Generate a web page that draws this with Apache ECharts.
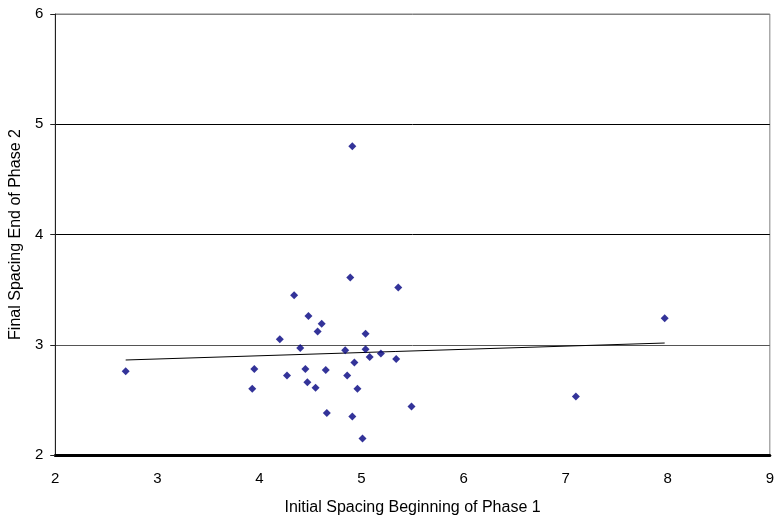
<!DOCTYPE html>
<html>
<head>
<meta charset="utf-8">
<script src="https://cdn.jsdelivr.net/npm/echarts@6/dist/echarts.min.js"></script>
<style>
  html, body { margin: 0; padding: 0; background: #fff; }
  #chart { width: 777px; height: 521px; }
</style>
</head>
<body>
<div id="chart"></div>
<script>
// Initial spacing (beginning of phase 1) vs final spacing (end of phase 2)
const initialSpacing = [
  4.89, 5.36, 4.34, 4.48, 4.61, 4.57, 5.04, 4.20, 4.40, 4.84,
  5.04, 5.08, 5.19, 5.34, 4.93, 3.95, 4.45, 4.65, 4.27, 4.86,
  4.47, 4.55, 3.93, 4.96, 5.49, 4.66, 4.91, 5.01, 2.69, 4.91,
  7.97, 7.10
];
const finalSpacing = [
  3.61, 3.52, 3.45, 3.26, 3.19, 3.12, 3.10, 3.05, 2.97, 2.95,
  2.96, 2.89, 2.92, 2.87, 2.84, 2.78, 2.78, 2.77, 2.72, 2.72,
  2.66, 2.61, 2.60, 2.60, 2.44, 2.38, 2.35, 2.15, 2.76, 4.80,
  3.24, 2.53
];
const xTicks = [2, 3, 4, 5, 6, 7, 8, 9];
const yTicks = [2, 3, 4, 5, 6];

const points = initialSpacing.map((x, i) => [x, finalSpacing[i]]);

// Least-squares linear trend over the observed range
const n = points.length;
const mx = initialSpacing.reduce((a, b) => a + b, 0) / n;
const my = finalSpacing.reduce((a, b) => a + b, 0) / n;
let sxy = 0, sxx = 0;
for (let i = 0; i < n; i++) {
  sxy += (initialSpacing[i] - mx) * (finalSpacing[i] - my);
  sxx += (initialSpacing[i] - mx) ** 2;
}
const slope = sxy / sxx;
const intercept = my - slope * mx;
const xMin = Math.min(...initialSpacing);
const xMax = Math.max(...initialSpacing);
const trend = [[xMin, intercept + slope * xMin], [xMax, intercept + slope * xMax]];

const font = 'Liberation Sans, Arial, sans-serif';
const chart = echarts.init(document.getElementById('chart'), null, { renderer: 'canvas' });
chart.setOption({
  animation: false,
  backgroundColor: '#fff',
  grid: {
    left: 55, right: 6, top: 14, bottom: 66,
    show: true, borderColor: '#808080', borderWidth: 1
  },
  xAxis: {
    type: 'value',
    min: xTicks[0], max: xTicks[xTicks.length - 1], interval: 1,
    name: 'Initial Spacing Beginning of Phase 1',
    nameLocation: 'middle', nameGap: 45,
    nameTextStyle: { fontFamily: font, fontSize: 16, color: '#000' },
    axisLine: { show: true, onZero: false, lineStyle: { color: '#000', width: 3 } },
    axisTick: { show: false },
    axisLabel: { fontFamily: font, fontSize: 15, color: '#000', margin: 16 },
    splitLine: { show: false }
  },
  yAxis: {
    type: 'value',
    min: yTicks[0], max: yTicks[yTicks.length - 1], interval: 1,
    name: 'Final Spacing End of Phase 2',
    nameLocation: 'middle', nameGap: 29,
    nameTextStyle: { fontFamily: font, fontSize: 16, color: '#000' },
    axisLine: { show: true, lineStyle: { color: '#222', width: 1 } },
    axisTick: { show: true, length: 5, lineStyle: { color: '#222' } },
    axisLabel: { fontFamily: font, fontSize: 15, color: '#000', margin: 12 },
    splitLine: { show: true, lineStyle: { color: ['#000', '#555', '#000', '#000', '#808080'], width: 1 } }
  },
  series: [
    {
      type: 'scatter',
      data: points,
      symbol: 'diamond',
      symbolSize: 8,
      itemStyle: { color: '#000080' },
      z: 3
    },
    {
      type: 'line',
      data: trend,
      symbol: 'none',
      lineStyle: { color: '#000', width: 1 },
      z: 2
    }
  ]
});
</script>
</body>
</html>
